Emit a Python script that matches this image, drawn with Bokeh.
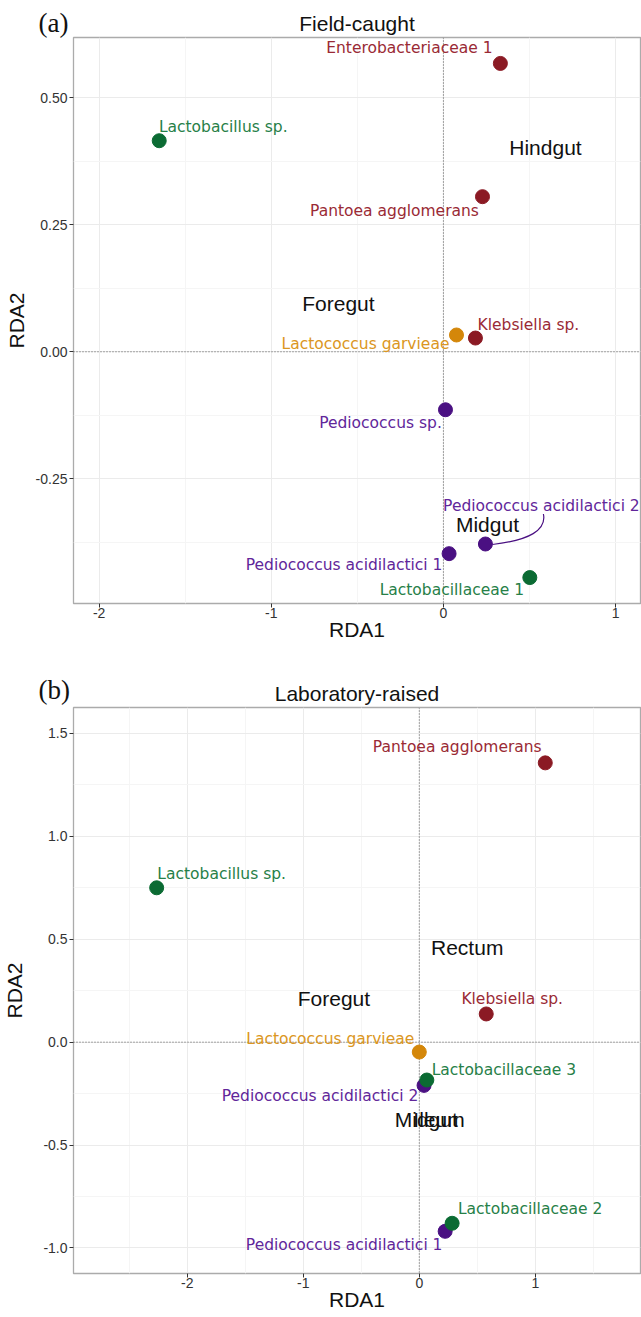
import numpy as np
from bokeh.plotting import figure
from bokeh.layouts import column
from bokeh.models import ColumnDataSource, FixedTicker, Span, Title, Range1d
from bokeh.core.properties import value
from bokeh.embed import file_html
from bokeh.resources import INLINE

# ---------------- data: panel (a) Field-caught ----------------
a_species = ["Enterobacteriaceae 1", "Pantoea agglomerans", "Klebsiella sp.",
             "Lactococcus garvieae", "Pediococcus sp.", "Pediococcus acidilactici 2",
             "Pediococcus acidilactici 1", "Lactobacillus sp.", "Lactobacillaceae 1"]
a_rda1 = [0.331, 0.227, 0.186, 0.076, 0.012, 0.244, 0.033, -1.651, 0.502]
a_rda2 = [0.567, 0.305, 0.027, 0.033, -0.114, -0.378, -0.397, 0.415, -0.444]
a_group = ["Enterobacteriaceae", "Enterobacteriaceae", "Enterobacteriaceae",
           "Lactococcus", "Pediococcus", "Pediococcus", "Pediococcus",
           "Lactobacillaceae", "Lactobacillaceae"]
a_regions = ["Hindgut", "Foregut", "Midgut"]
a_region_rda1 = [0.593, -0.610, 0.256]
a_region_rda2 = [0.401, 0.094, -0.339]
a_xticks = [-2, -1, 0, 1]
a_xtick_labels = ["-2", "-1", "0", "1"]
a_yticks = [-0.25, 0.0, 0.25, 0.5]
a_ytick_labels = ["-0.25", "0.00", "0.25", "0.50"]

# ---------------- data: panel (b) Laboratory-raised ----------------
b_species = ["Pantoea agglomerans", "Klebsiella sp.", "Lactococcus garvieae",
             "Pediococcus acidilactici 2", "Pediococcus acidilactici 1",
             "Lactobacillus sp.", "Lactobacillaceae 3", "Lactobacillaceae 2"]
b_rda1 = [1.086, 0.577, 0.000, 0.041, 0.223, -2.264, 0.065, 0.283]
b_rda2 = [1.357, 0.137, -0.048, -0.210, -0.919, 0.750, -0.184, -0.880]
b_group = ["Enterobacteriaceae", "Enterobacteriaceae", "Lactococcus",
           "Pediococcus", "Pediococcus", "Lactobacillaceae", "Lactobacillaceae",
           "Lactobacillaceae"]
b_regions = ["Rectum", "Foregut", "Midgut", "Ileum"]
b_region_rda1 = [0.413, -0.736, 0.060, 0.170]
b_region_rda2 = [0.462, 0.214, -0.374, -0.374]
b_xticks = [-2, -1, 0, 1]
b_xtick_labels = ["-2", "-1", "0", "1"]
b_yticks = [-1.0, -0.5, 0.0, 0.5, 1.0, 1.5]
b_ytick_labels = ["-1.0", "-0.5", "0.0", "0.5", "1.0", "1.5"]

# ---------------- styles ----------------
POINT_COL = {"Enterobacteriaceae": "#8B1A24", "Lactobacillaceae": "#0B6B33",
             "Pediococcus": "#4A1082", "Lactococcus": "#D4870A"}
LABEL_COL = {"Enterobacteriaceae": "#9A2A35", "Lactobacillaceae": "#278048",
             "Pediococcus": "#61269A", "Lactococcus": "#DB9622"}
# label offsets in screen pixels (layout, ggrepel-like)
a_dx = [-91, -88, 53, -91, -65, 56, -105, 64, -78]
a_dy = [-15, 14, -13, 9, 13, -38, 11, -14, 12]
b_dx = [-88, 26, -89, -104, -101, 65, 77, 78]
b_dy = [-16, -15, -13, 11, 14, -14, -10, -14]

FONT = "Liberation Sans"
LFONT = "DejaVu Sans"
W, FW, FH = 641, 567, 566
LEFT, RIGHT, TOP = 73, 1, 37


def make_panel(title, tag, tag_standoff, xr, yr, xt, xtl, xminor, yt, ytl, yminor,
               species, rx, ry, groups, dx, dy, regions, gx, gy,
               bottom, ylab_standoff, curve_idx=None):
    height = TOP + FH + bottom
    p = figure(width=W, height=height, x_range=Range1d(*xr), y_range=Range1d(*yr),
               output_backend="svg", toolbar_location=None,
               min_border_left=LEFT, min_border_right=RIGHT,
               min_border_top=TOP, min_border_bottom=bottom)
    p.background_fill_color = "white"
    p.border_fill_color = "white"
    p.outline_line_color = "#ababab"
    p.outline_line_width = 1.3

    # panel title, closest to the frame
    p.add_layout(Title(text=title, align="center", standoff=5,
                       text_font=FONT, text_font_size="21px",
                       text_font_style="normal", text_color="#111111"), "above")

    # panel tag as the outermost title (negative standoff -> zero thickness),
    # shifted to the top-left corner of the figure
    p.title.text = tag
    p.title.align = "left"
    p.title.offset = -35
    p.title.standoff = tag_standoff
    p.title.vertical_align = "bottom"
    p.title.text_font = "Liberation Serif"
    p.title.text_font_size = "27px"
    p.title.text_font_style = "normal"
    p.title.text_color = "#111111"

    p.xaxis.ticker = FixedTicker(ticks=xt, minor_ticks=xminor)
    p.yaxis.ticker = FixedTicker(ticks=yt, minor_ticks=yminor)
    p.xaxis.major_label_overrides = {float(t): s for t, s in zip(xt, xtl)}
    p.yaxis.major_label_overrides = {float(t): s for t, s in zip(yt, ytl)}
    for ax in (p.xaxis[0], p.yaxis[0]):
        ax.axis_line_color = None
        ax.major_tick_line_color = "#333333"
        ax.major_tick_out = 4
        ax.major_tick_in = 0
        ax.minor_tick_line_color = None
        ax.major_label_text_font = FONT
        ax.major_label_text_font_size = "14px"
        ax.major_label_text_color = "#333333"
        ax.axis_label_text_font = FONT
        ax.axis_label_text_font_size = "21px"
        ax.axis_label_text_font_style = "normal"
        ax.axis_label_text_color = "#111111"
    p.xaxis.axis_label = "RDA1"
    p.yaxis.axis_label = "RDA2"
    p.xaxis.major_label_standoff = 0
    p.xaxis.axis_label_standoff = -3
    p.yaxis.major_label_standoff = 2
    p.yaxis.axis_label_standoff = ylab_standoff

    for g in (p.xgrid[0], p.ygrid[0]):
        g.grid_line_color = "#ebebeb"
        g.grid_line_width = 1
        g.minor_grid_line_color = "#f5f5f5"
        g.minor_grid_line_width = 1

    p.add_layout(Span(location=0, dimension="height", line_color="#555555",
                      line_dash="1 2", line_width=1, level="underlay"))
    p.add_layout(Span(location=0, dimension="width", line_color="#555555",
                      line_dash="1 2", line_width=1, level="underlay"))

    src = ColumnDataSource(dict(
        x=rx, y=ry, name=species,
        pc=[POINT_COL[g] for g in groups], lc=[LABEL_COL[g] for g in groups],
        dx=dx, dy=dy))

    sx = FW / (xr[1] - xr[0])
    sy = FH / (yr[1] - yr[0])
    if curve_idx is not None:
        px, py = rx[curve_idx], ry[curve_idx]
        p.quadratic(x0=[px + 58 / sx], y0=[py + 30 / sy],
                    x1=[px + 7 / sx], y1=[py - 0.5 / sy],
                    cx=[px + 63 / sx], cy=[py + 6 / sy],
                    line_color=POINT_COL["Pediococcus"], line_width=1.2)

    p.scatter("x", "y", source=src, size=14, fill_color="pc", line_color="pc")
    p.text("x", "y", text="name", source=src, x_offset="dx", y_offset="dy",
           text_color="lc", text_font=value(LFONT), text_font_size="15.5px",
           text_align="center", text_baseline="middle")

    rsrc = ColumnDataSource(dict(x=gx, y=gy, name=regions))
    p.text("x", "y", text="name", source=rsrc, text_color="#111111",
           text_font=value(FONT), text_font_size="21px",
           text_align="center", text_baseline="middle")
    return p


p1 = make_panel("Field-caught", "(a)", -61, (-2.149, 1.145), (-0.495, 0.618),
                a_xticks, a_xtick_labels, [-1.5, -0.5, 0.5],
                a_yticks, a_ytick_labels, [-0.375, -0.125, 0.125, 0.375],
                a_species, a_rda1, a_rda2, a_group, a_dx, a_dy,
                a_regions, a_region_rda1, a_region_rda2,
                bottom=67, ylab_standoff=5, curve_idx=5)

p2 = make_panel("Laboratory-raised", "(b)", -55, (-2.981, 1.907), (-1.124, 1.626),
                b_xticks, b_xtick_labels, [-2.5, -1.5, -0.5, 0.5, 1.5],
                b_yticks, b_ytick_labels, [-0.75, -0.25, 0.25, 0.75, 1.25],
                b_species, b_rda1, b_rda2, b_group, b_dx, b_dy,
                b_regions, b_region_rda1, b_region_rda2,
                bottom=44, ylab_standoff=14)

layout = column(p1, p2, spacing=0)
open("out.html", "w").write(file_html(layout, INLINE))
